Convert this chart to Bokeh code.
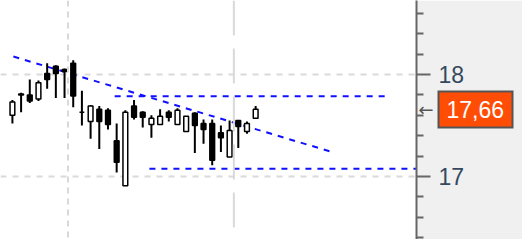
from bokeh.plotting import figure
from bokeh.models import ColumnDataSource, Span, Label, FixedTicker, Range1d, LinearAxis
from bokeh.embed import file_html
from bokeh.resources import INLINE

# ---- data (daily candles, index positions) ----
opens  = [17.60, 17.81, 17.80, 17.76, 18.01, 18.08, 18.05, 18.11, 17.63, 17.54,
          17.66, 17.65, 17.35, 16.91, 17.69, 17.63, 17.51, 17.51, 17.63, 17.51,
          17.44, 17.62, 17.52, 17.52, 17.43, 17.19, 17.55, 17.44, 17.57]
highs  = [17.75, 17.82, 17.95, 17.94, 18.11, 18.09, 18.06, 18.14, 17.84, 17.70,
          17.69, 17.67, 17.52, 17.65, 17.75, 17.64, 17.60, 17.66, 17.65, 17.67,
          17.59, 17.63, 17.56, 17.56, 17.50, 17.55, 17.55, 17.54, 17.69]
lows   = [17.52, 17.63, 17.72, 17.74, 17.86, 17.77, 17.77, 17.68, 17.50, 17.37,
          17.27, 17.46, 17.04, 16.91, 17.56, 17.48, 17.38, 17.51, 17.54, 17.51,
          17.44, 17.23, 17.32, 17.11, 17.24, 17.19, 17.28, 17.42, 17.57]
closes = [17.73, 17.80, 17.74, 17.92, 17.95, 18.01, 18.03, 17.79, 17.63, 17.69,
          17.54, 17.51, 17.14, 17.63, 17.58, 17.58, 17.57, 17.59, 17.58, 17.65,
          17.59, 17.50, 17.46, 17.16, 17.38, 17.45, 17.49, 17.52, 17.66]

# trend line and levels
trend_x = [0.11, 36.6]
trend_y = [18.176, 17.245]
resist_x = [11.77, 42.86]
resist_y = [17.787, 17.787]
support_x = [15.77, 47.0]
support_y = [17.075, 17.075]

y_major = [17, 18]
y_minor = [16.4, 16.6, 16.8, 17.2, 17.4, 17.6, 17.8, 18.2, 18.4, 18.6]
vgrid_short = 6.4
vgrid_long = 25.49
last_price = 17.66
last_label = "17,66"

idx = list(range(len(opens)))
up = [c >= o for o, c in zip(opens, closes)]

src_all = ColumnDataSource(dict(x=idx, h=highs, l=lows))
src_up = ColumnDataSource(dict(
    x=[i for i in idx if up[i]],
    top=[closes[i] for i in idx if up[i]],
    bottom=[opens[i] for i in idx if up[i]]))
src_dn = ColumnDataSource(dict(
    x=[i for i in idx if not up[i]],
    top=[opens[i] for i in idx if not up[i]],
    bottom=[closes[i] for i in idx if not up[i]]))

H = 239
Y0, Y1 = 16.3824, 18.7255
p = figure(width=522, height=H, output_backend="svg", toolbar_location=None,
           x_range=Range1d(-1.371, 46.514), y_range=Range1d(Y0, Y1),
           y_axis_location="right", min_border=0, min_border_right=103)
p.xaxis.visible = False
p.outline_line_color = None
p.background_fill_color = "white"
p.border_fill_color = "#f0f0f0"
p.xgrid.visible = False

ax = p.yaxis[0]
ax.ticker = FixedTicker(ticks=y_major, minor_ticks=y_minor)
ax.axis_line_color = "#666666"
ax.axis_line_width = 2
ax.major_tick_line_color = "#666666"
ax.major_tick_line_width = 2
ax.minor_tick_line_color = "#666666"
ax.minor_tick_line_width = 2
ax.major_tick_out = 14
ax.major_tick_in = 0
ax.minor_tick_out = 7
ax.minor_tick_in = 0
ax.major_label_text_font = "Liberation Sans"
ax.major_label_text_font_size = "23px"
ax.major_label_text_color = "#34495e"
ax.major_label_standoff = 8

# last-price tag: a second right axis whose single tick forms the box
tag = LinearAxis(ticker=FixedTicker(ticks=[last_price], minor_ticks=[last_price]),
                 major_label_overrides={last_price: last_label})
tag.axis_line_color = None
tag.major_tick_line_color = "#555555"
tag.major_tick_line_width = 38
tag.major_tick_line_cap = "butt"
tag.major_tick_in = 30
tag.major_tick_out = 46
tag.minor_tick_line_color = "#ff4d06"
tag.minor_tick_line_width = 34
tag.minor_tick_line_cap = "butt"
tag.minor_tick_in = 28
tag.minor_tick_out = 44
tag.major_label_standoff = -67
tag.major_label_text_font = "Liberation Sans"
tag.major_label_text_font_size = "23px"
tag.major_label_text_color = "white"
p.add_layout(tag, "right")

p.ygrid.grid_line_color = "#d9d9d9"
p.ygrid.grid_line_width = 2
p.ygrid.grid_line_dash = "6 6"

p.add_layout(Span(location=vgrid_short, dimension="height", line_color="#d9d9d9",
                  line_width=2, line_dash="6 5"))
p.add_layout(Span(location=vgrid_long, dimension="height", line_color="#d9d9d9",
                  line_width=2, line_dash="35 13"))

# level lines
p.line(trend_x, trend_y, line_color="#1010ff", line_width=2, line_dash="6 6")
p.line(resist_x, resist_y, line_color="#1010ff", line_width=2, line_dash="6 6")
p.line(support_x, support_y, line_color="#1010ff", line_width=2, line_dash="6 6")

# candles
p.segment(x0="x", y0="h", x1="x", y1="l", source=src_all, line_color="black", line_width=2)
p.vbar(x="x", top="top", bottom="bottom", width=0.55, source=src_up,
       fill_color="white", line_color="black", line_width=1.5)
p.vbar(x="x", top="top", bottom="bottom", width=0.55, source=src_dn,
       fill_color="black", line_color="black", line_width=1.5)

# arrow pointing at last price (right side panel)
y_px = (last_price - Y0) / (Y1 - Y0) * H
p.add_layout(Label(x=-89, y=y_px, x_units="screen", y_units="screen", text="\u2190",
                   text_baseline="middle", text_align="left", text_font="DejaVu Sans",
                   text_font_size="18px", text_color="#555555"), "right")

open("out.html", "w").write(file_html(p, INLINE))
